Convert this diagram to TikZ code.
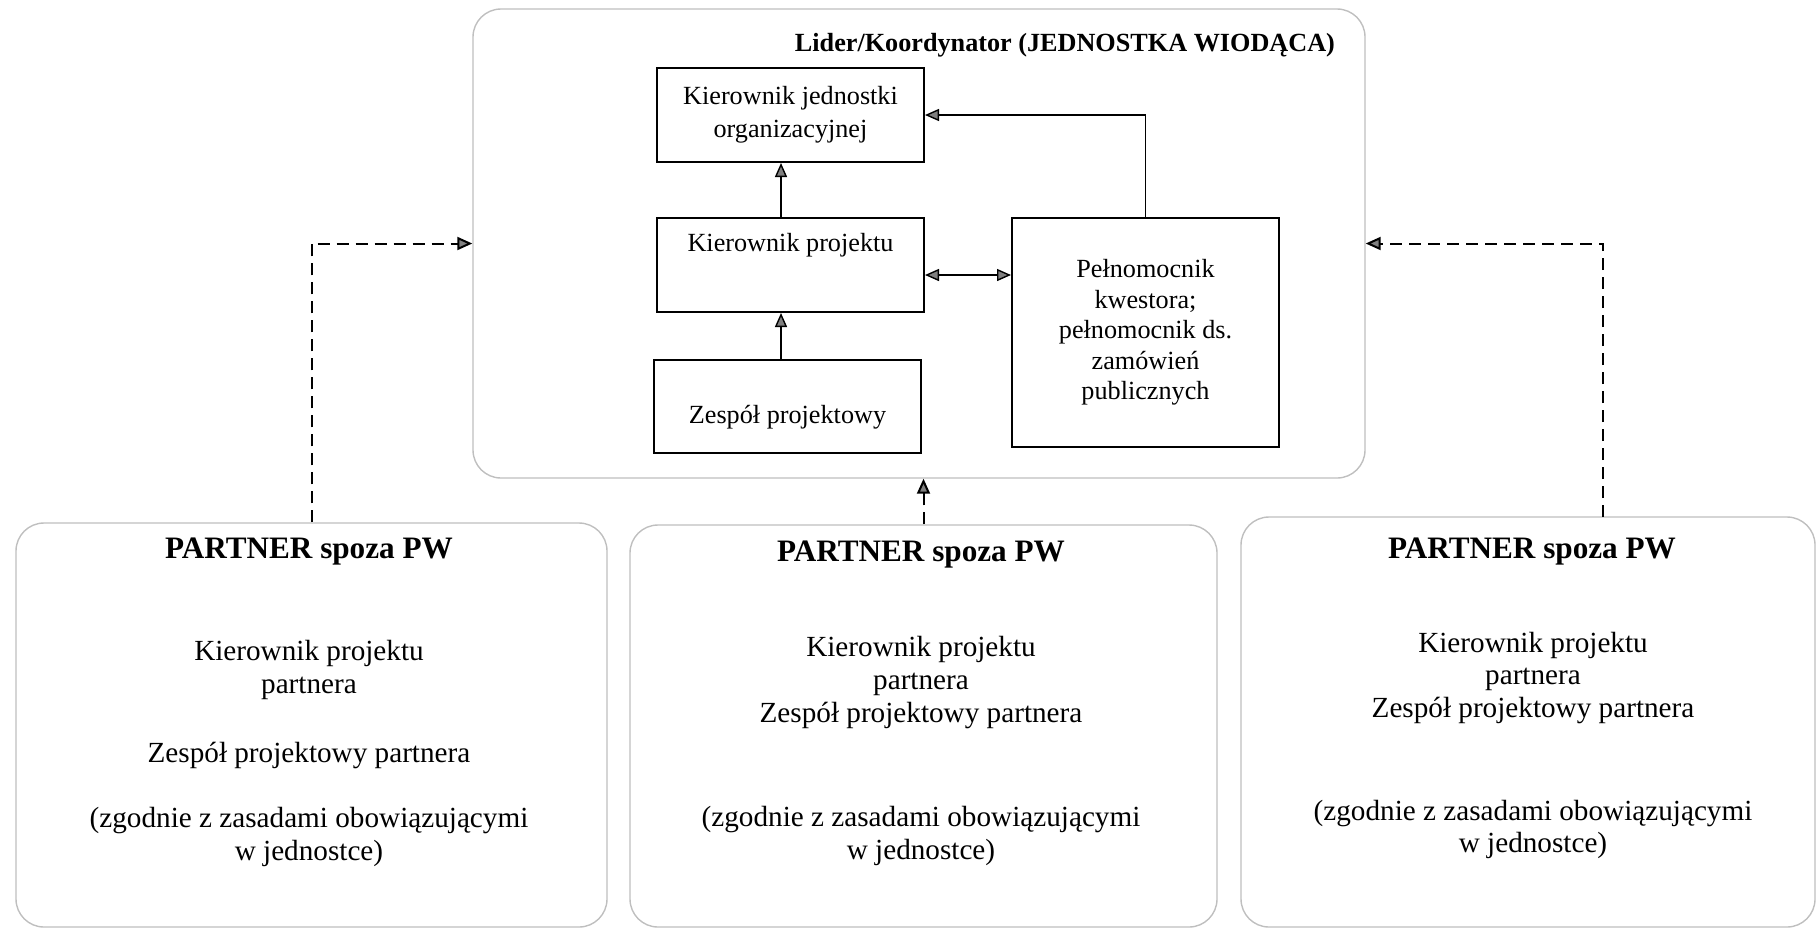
\documentclass[tikz,border=0pt]{standalone}
\usepackage{fontspec}
\setmainfont{Liberation Serif}
\usetikzlibrary{arrows.meta}

\begin{document}
\begin{tikzpicture}
[x=0.5pt,y=-0.5pt,
 groupBox/.style={draw=gray!50,line width=0.7pt,rounded corners=14pt},
 unitBox/.style={draw,line width=1pt,minimum width=133.5pt},
 innerText/.style={font=\fontsize{13.1}{15.3}\selectfont,align=center},
 headText/.style={font=\fontsize{13.1}{15.3}\selectfont\bfseries},
 partnerHead/.style={font=\fontsize{15.6}{18}\selectfont\bfseries},
 partnerText/.style={font=\fontsize{14.6}{16.3}\selectfont,align=center},
 tipDecorate/.style={line width=0.7pt,-{Triangle[length=7pt,width=6pt,fill=gray]}},
 bothDecorate/.style={line width=0.7pt,{Triangle[length=7pt,width=6pt,fill=gray]}-{Triangle[length=7pt,width=6pt,fill=gray]}},
 dashDecorate/.style={line width=1pt,dash pattern=on 6pt off 3.5pt,-{Triangle[length=7.5pt,width=6.5pt,fill=gray]}}]
\useasboundingbox (0,0) rectangle (1819,928);

%% lead unit
\node[groupBox,minimum width=446pt,minimum height=234.5pt] (lead) at (919,243.5) {};
\node[headText,anchor=east] (leadTitle) at (1342,45) {Lider/Koordynator (JEDNOSTKA WIODĄCA)};
\node[unitBox,minimum height=47pt,innerText] (kj) at (790.5,115) {Kierownik jednostki\\[1.2pt]organizacyjnej};
\node[unitBox,minimum height=47pt] (kp) at (790.5,265) {};
\node[innerText] (kpText) at (790.5,245) {Kierownik projektu};
\node[unitBox,minimum height=46.5pt] (zp) at (787.5,406.5) {};
\node[innerText] (zpText) at (787.5,417) {Zespół projektowy};
\node[unitBox,minimum height=114.5pt,innerText] (pk) at (1145.5,332.5)
  {Pełnomocnik\\kwestora;\\pełnomocnik ds.\\zamówień\\publicznych};

%% partners
\foreach \name/\x/\y/\w/\h in {
  p1/311.5/725/295.5/202, p2/923.5/726/293.5/201, p3/1528/722/287/205}
{
  \node[groupBox,minimum width=\w pt,minimum height=\h pt] (\name) at (\x,\y) {};
}
\foreach \name/\x/\y in {p1/309/552, p2/921/555, p3/1532/552}
{
  \node[partnerHead] (\name Head) at (\x,\y) {PARTNER spoza PW};
}
\node[partnerText] (p1Text) at (309,753.5)
  {Kierownik projektu\\partnera\\[18pt]Zespół projektowy partnera\\[16.5pt](zgodnie z zasadami obowiązującymi\\w jednostce)};
\node[partnerText] (p2Text) at (921,751)
  {Kierownik projektu\\partnera\\Zespół projektowy partnera\\[36pt](zgodnie z zasadami obowiązującymi\\w jednostce)};
\node[partnerText] (p3Text) at (1533,745.5)
  {Kierownik projektu\\partnera\\Zespół projektowy partnera\\[35pt](zgodnie z zasadami obowiązującymi\\w jednostce)};

%% connectors
\coordinate (colX) at (781,0);
\coordinate (rowY) at (0,275);
\coordinate (p3Top) at (1603,517);
\draw[tipDecorate] (zp.north -| colX) -- (kp.south -| colX);
\draw[tipDecorate] (kp.north -| colX) -- (kj.south -| colX);
\draw[bothDecorate] (kp.east |- rowY) -- (pk.west |- rowY);
\draw[tipDecorate] (pk.north) |- (kj.east);
\draw[dashDecorate] (p1.north) |- (lead.west);
\draw[dashDecorate] (p2.north) -- (p2.north |- lead.south);
\draw[dashDecorate] (p3Top) |- (lead.east);
\end{tikzpicture}
\end{document}
